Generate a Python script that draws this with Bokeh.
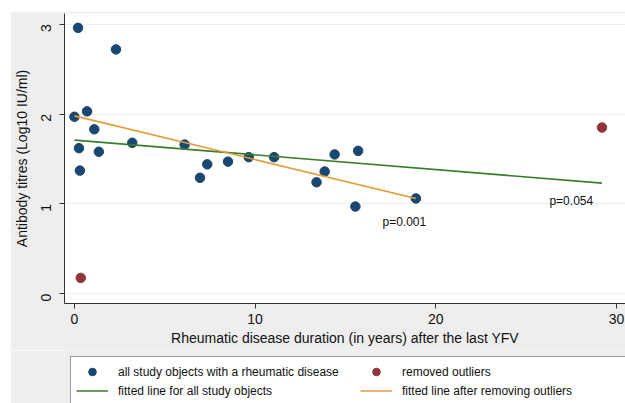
import math
from bokeh.plotting import figure
from bokeh.layouts import column
from bokeh.models import Range1d, Legend, LegendItem, FixedTicker, Label
from bokeh.embed import file_html
from bokeh.resources import INLINE

# ---- data ----
years_all = [0.2, 2.3, 0.0, 0.7, 0.25, 1.1, 1.35, 0.3, 3.2, 6.1, 6.95, 7.35,
             8.5, 9.65, 11.05, 13.4, 13.85, 14.4, 15.55, 15.7, 18.9]
titres_all = [2.96, 2.72, 1.97, 2.03, 1.62, 1.83, 1.58, 1.37, 1.68, 1.66, 1.29, 1.44,
              1.47, 1.52, 1.52, 1.24, 1.36, 1.55, 0.97, 1.59, 1.06]
years_out = [0.35, 29.2]
titres_out = [0.175, 1.85]

# fitted lines (intercept, slope)
fit_all = (1.71, -0.0164)
fit_removed = (1.98, -0.0487)

p_labels = ["p=0.001", "p=0.054"]
p_x = [18.26, 27.5]
p_y = [0.795, 1.03]

x_ticks = [0, 10, 20, 30]
y_ticks = [0, 1, 2, 3]

legend_labels = ["all study objects with a rheumatic disease", "fitted line for all study objects",
                 "removed outliers", "fitted line after removing outliers"]

FONT = "Liberation Sans"
BG = "#eeeeee"
BLUE = "#1a476f"
RED = "#90353b"
GREEN = "#3a7d2c"
ORANGE = "#e59b38"

p = figure(width=615, height=339, output_backend="svg", toolbar_location=None,
           x_range=Range1d(-0.55, 30.50), y_range=Range1d(-0.11, 3.12),
           min_border_left=52, min_border_right=0, min_border_top=2, min_border_bottom=47,
           margin=(11, 0, 0, 10))
p.border_fill_color = BG
p.background_fill_color = "white"
p.outline_line_color = None

r_all = p.scatter(years_all, titres_all, size=9.5, color=BLUE)
r_out = p.scatter(years_out, titres_out, size=9.5, color=RED)

all_x = years_all + years_out
x0, x1 = min(all_x), max(all_x)
line_all_x = [x0, x1]
line_all_y = [fit_all[0] + fit_all[1] * x0, fit_all[0] + fit_all[1] * x1]
p.line(line_all_x, line_all_y, line_color=GREEN, line_width=1.6)
rx0, rx1 = min(years_all), max(years_all)
line_rem_x = [rx0, rx1]
line_rem_y = [fit_removed[0] + fit_removed[1] * rx0, fit_removed[0] + fit_removed[1] * rx1]
p.line(line_rem_x, line_rem_y, line_color=ORANGE, line_width=1.6)

for t, xx, yy in zip(p_labels, p_x, p_y):
    p.add_layout(Label(x=xx, y=yy, text=t, text_font=FONT, text_font_size="12px",
                       text_align="center", text_baseline="middle", text_color="#111111"))

p.xaxis.ticker = FixedTicker(ticks=x_ticks)
p.yaxis.ticker = FixedTicker(ticks=y_ticks)
for ax in (p.xaxis, p.yaxis):
    ax.axis_line_color = "#333333"
    ax.major_tick_line_color = "#333333"
    ax.major_tick_out = 5
    ax.major_tick_in = 0
    ax.minor_tick_line_color = None
    ax.major_label_text_font = FONT
    ax.major_label_text_font_size = "14px"
    ax.major_label_text_color = "#111111"
    ax.axis_label_text_font = FONT
    ax.axis_label_text_font_size = "14px"
    ax.axis_label_text_font_style = "normal"
    ax.axis_label_text_color = "#111111"
p.xaxis.axis_label = "Rheumatic disease duration (in years) after the last YFV"
p.yaxis.axis_label = "Antibody titres (Log10 IU/ml)"
p.yaxis.major_label_orientation = math.pi / 2
p.yaxis.major_label_standoff = 13
p.xaxis.axis_label_standoff = 3
p.yaxis.axis_label_standoff = 4

p.xgrid.grid_line_color = None
p.ygrid.grid_line_color = "#e8eff0"
p.ygrid.grid_line_width = 1.2

# ---- legend strip below the plot ----
lg = figure(width=615, height=53, output_backend="svg", toolbar_location=None, title=None,
            x_axis_location=None, y_axis_location=None,
            x_range=Range1d(100, 101), y_range=Range1d(100, 101),
            min_border_left=52, min_border_right=0, min_border_top=0, min_border_bottom=0,
            margin=(0, 0, 0, 10))
lg.grid.visible = False
lg.border_fill_color = BG
lg.background_fill_color = BG
lg.outline_line_color = None

k_all = lg.scatter(years_all, titres_all, size=9.5, color=BLUE, visible=False)
k_fit_all = lg.line(line_all_x, line_all_y, line_color=GREEN, line_width=1.6, visible=False)
k_out = lg.scatter(years_out, titres_out, size=9.5, color=RED, visible=False)
k_fit_rem = lg.line(line_rem_x, line_rem_y, line_color=ORANGE, line_width=1.6, visible=False)

leg = Legend(items=[LegendItem(label=legend_labels[0], renderers=[k_all]),
                    LegendItem(label=legend_labels[1], renderers=[k_fit_all]),
                    LegendItem(label=legend_labels[2], renderers=[k_out]),
                    LegendItem(label=legend_labels[3], renderers=[k_fit_rem])],
             location="top_left", orientation="vertical", nrows=2,
             padding=5, spacing=0, margin=6, glyph_width=32, glyph_height=19,
             label_height=19, label_width=242, label_standoff=10, label_text_font=FONT,
             label_text_font_size="12px", label_text_color="#111111",
             inactive_fill_alpha=0.0,
             border_line_color="#333333", border_line_width=1,
             background_fill_color="white", background_fill_alpha=1.0)
lg.add_layout(leg)

layout = column(p, lg, spacing=0)
open("out.html", "w").write(file_html(layout, INLINE))
